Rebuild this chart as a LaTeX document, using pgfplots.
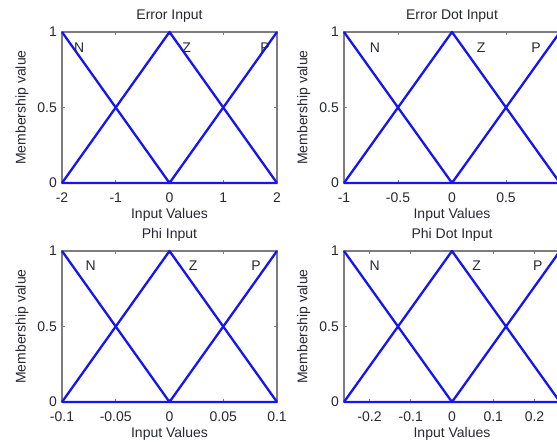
\documentclass[border=0pt]{standalone}
\usepackage{fontspec}
\setmainfont{Liberation Sans}
\usepackage{pgfplots}
\pgfplotsset{compat=1.18}

\definecolor{mfblue}{RGB}{20,20,245}
\definecolor{framegray}{RGB}{125,125,125}
\definecolor{txt}{RGB}{40,40,50}

% common look of the four membership-function panels
\pgfplotsset{mfaxis/.style={
  scale only axis, width=215pt, height=151pt,
  ymin=0, ymax=1, ytick={0,0.5,1}, yticklabels={0,0.5,1},
  axis line style={framegray, line width=1.6pt},
  tick style={framegray, line width=0.8pt}, major tick length=3pt,
  tick align=inside,
  font=\fontsize{14}{16}\selectfont,
  every tick label/.append style={txt},
  xticklabel style={anchor=base, yshift=-19pt},
  yticklabel style={anchor=east, inner sep=0pt, xshift=-5pt},
  every axis title shift=0pt,
  title style={txt, at={(axis description cs:0.5,1.106)}, anchor=center, inner sep=0pt},
  xlabel style={txt, at={(axis description cs:0.5,-0.212)}, anchor=center, inner sep=0pt},
  ylabel style={txt, at={(axis description cs:-0.186,0.5)}, anchor=center, inner sep=0pt},
  xlabel={Input Values}, ylabel={Membership value},
  clip=false,
}}
\tikzset{
  mfline/.style={mfblue, line width=2.3pt, line join=round, mark=none},
  mflabel/.style={txt, font=\fontsize{14}{16}\selectfont, inner sep=0pt},
}

\begin{document}
\begin{tikzpicture}
\path[use as bounding box] (0pt,0pt) rectangle (557pt,445pt);
\begin{scope}
\clip (0pt,0pt) rectangle (557pt,445pt);

% Error
\begin{axis}[mfaxis, at={(62pt,262pt)}, anchor=south west,
  title={Error Input}, xmin=-2, xmax=2,
  xtick={-2,-1,0,1,2}, xticklabels={-2,-1,0,1,2}]
  \addplot[mfline] coordinates {(-2,1) (0,0) (2,0)};
  \addplot[mfline] coordinates {(-2,0) (0,1) (2,0)};
  \addplot[mfline] coordinates {(-2,0) (0,0) (2,1)};
  \node[mflabel] at (axis cs:-1.682,0.897) {N};
  \node[mflabel] at (axis cs:0.318,0.897) {Z};
  \node[mflabel] at (axis cs:1.776,0.897) {P};
\end{axis}

% Error dot
\begin{axis}[mfaxis, at={(344pt,262pt)}, anchor=south west, width=216pt,
  title={Error Dot Input}, xmin=-1, xmax=1,
  xtick={-1,-0.5,0,0.5,1}, xticklabels={-1,-0.5,0,0.5,1}]
  \addplot[mfline] coordinates {(-1,1) (0,0) (1,0)};
  \addplot[mfline] coordinates {(-1,0) (0,1) (1,0)};
  \addplot[mfline] coordinates {(-1,0) (0,0) (1,1)};
  \node[mflabel] at (axis cs:-0.713,0.897) {N};
  \node[mflabel] at (axis cs:0.269,0.897) {Z};
  \node[mflabel] at (axis cs:0.778,0.897) {P};
\end{axis}

% Phi
\begin{axis}[mfaxis, at={(62pt,43pt)}, anchor=south west,
  title={Phi Input}, xmin=-0.1, xmax=0.1,
  xtick={-0.1,-0.05,0,0.05,0.1}, xticklabels={-0.1,-0.05,0,0.05,0.1}]
  \addplot[mfline] coordinates {(-0.1,1) (0,0) (0.1,0)};
  \addplot[mfline] coordinates {(-0.1,0) (0,1) (0.1,0)};
  \addplot[mfline] coordinates {(-0.1,0) (0,0) (0.1,1)};
  \node[mflabel] at (axis cs:-0.0734,0.905) {N};
  \node[mflabel] at (axis cs:0.0221,0.905) {Z};
  \node[mflabel] at (axis cs:0.0804,0.905) {P};
\end{axis}

% Phi dot
\begin{axis}[mfaxis, at={(344pt,43pt)}, anchor=south west, width=216pt,
  title={Phi Dot Input}, xmin=-0.2618, xmax=0.2618,
  xtick={-0.2,-0.1,0,0.1,0.2}, xticklabels={-0.2,-0.1,0,0.1,0.2}]
  \addplot[mfline] coordinates {(-0.2618,1) (0,0) (0.2618,0)};
  \addplot[mfline] coordinates {(-0.2618,0) (0,1) (0.2618,0)};
  \addplot[mfline] coordinates {(-0.2618,0) (0,0) (0.2618,1)};
  \node[mflabel] at (axis cs:-0.1875,0.905) {N};
  \node[mflabel] at (axis cs:0.0597,0.905) {Z};
  \node[mflabel] at (axis cs:0.208,0.905) {P};
\end{axis}
\end{scope}
\end{tikzpicture}
\end{document}
